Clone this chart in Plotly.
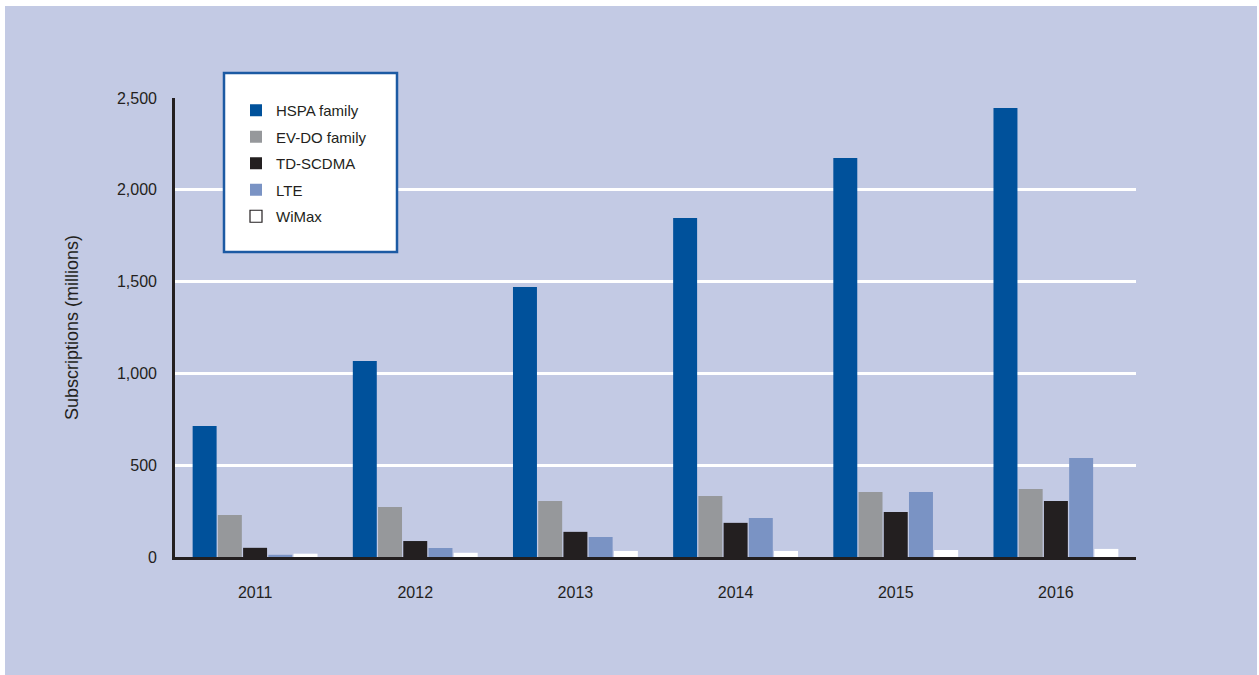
import plotly.graph_objects as go

years = ['2011', '2012', '2013', '2014', '2015', '2016']
series_names = ['HSPA family', 'EV-DO family', 'TD-SCDMA', 'LTE', 'WiMax']
hspa = [713, 1067, 1470, 1846, 2173, 2446]
evdo = [229, 272, 305, 332, 354, 370]
tdscdma = [50, 87, 137, 186, 245, 305]
lte = [12, 49, 109, 212, 354, 539]
wimax = [18, 23, 33, 33, 38, 44]
y_ticks = [0, 500, 1000, 1500, 2000, 2500]

colors = ['#00519b', '#96989b', '#231f20', '#7a93c4', '#ffffff']
values = [hspa, evdo, tdscdma, lte, wimax]

W, H = 1259, 675
L, R, T, B = 175, 1136, 98, 557  # plot area in px
pw, ph = R - L, B - T

def px_x(p):
    return (p - L) / pw

def px_y(p):
    return (B - p) / ph

FONT = 'Liberation Sans, Arial, sans-serif'
TXT = '#231f20'

fig = go.Figure()
for name, vals, col in zip(series_names, values, colors):
    fig.add_trace(go.Bar(x=years, y=vals, name=name, marker=dict(color=col, line=dict(width=0)),
                         showlegend=False))

for i, (name, col) in enumerate(zip(series_names, colors)):
    fig.add_trace(go.Scatter(x=[None], y=[None], mode='markers', name=name, legendgroup=name,
                             marker=dict(symbol='square', size=12, color=col,
                                         line=dict(width=1.2 if col == '#ffffff' else 0, color=TXT))))

fig.update_layout(
    width=W, height=H,
    margin=dict(l=L, r=W - R, t=T, b=H - B, pad=0),
    paper_bgcolor='white',
    plot_bgcolor='rgba(0,0,0,0)',
    barmode='group', bargap=0.2125, bargroupgap=0.05,
    font=dict(family=FONT, size=16, color=TXT),
    showlegend=True,
    legend=dict(x=px_x(236), y=px_y(94), xanchor='left', yanchor='top',
                bgcolor='rgba(0,0,0,0)', borderwidth=0,
                font=dict(family=FONT, size=15, color=TXT),
                traceorder='grouped', tracegroupgap=4),
    xaxis=dict(type='category', range=[-0.5, 5.5], showgrid=False, showline=True,
               linecolor=TXT, linewidth=3, ticks='', ticklabelstandoff=19,
               tickfont=dict(family=FONT, size=16, color=TXT), zeroline=False),
    yaxis=dict(range=[0, 2500], tickvals=y_ticks, tickformat=',', showgrid=True,
               gridcolor='white', gridwidth=2.7, showline=True, linecolor=TXT, linewidth=2.7,
               ticks='', ticklabelstandoff=12, zeroline=False,
               tickfont=dict(family=FONT, size=16, color=TXT),
               title=dict(text='Subscriptions (millions)', standoff=34,
                          font=dict(family=FONT, size=18, color=TXT))),
    shapes=[
        dict(type='rect', xref='paper', yref='paper', layer='below',
             x0=px_x(5), x1=px_x(1257), y0=px_y(675), y1=px_y(6),
             fillcolor='#c3cae4', line=dict(width=0)),
        dict(type='rect', xref='paper', yref='paper', layer='above',
             x0=px_x(224), x1=px_x(397), y0=px_y(252), y1=px_y(73),
             fillcolor='white', line=dict(width=2.5, color='#1c5aa3')),
    ],
)

fig.write_html('out.html')
